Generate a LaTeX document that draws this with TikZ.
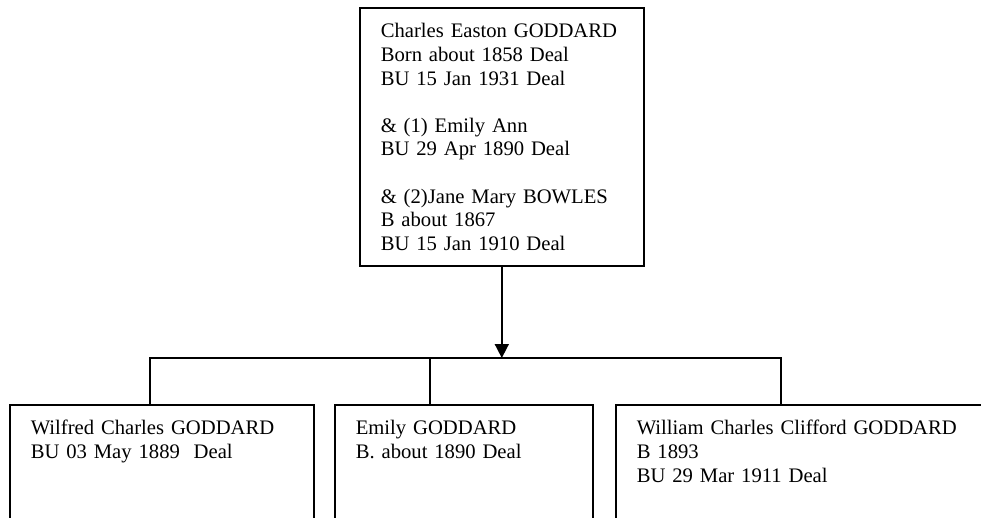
\documentclass[tikz,border=0pt]{standalone}
\usepackage{fontspec}
\setmainfont{Liberation Serif}
\usetikzlibrary{arrows.meta,positioning,calc}

\begin{document}
\begin{tikzpicture}[x=1pt,y=-1pt,
    person/.style={draw, line width=1.6pt, anchor=north west, align=left,
      inner xsep=21pt, inner ysep=16pt, text height=14pt,
      font=\fontsize{20.65}{23.6}\selectfont},
    link/.style={line width=1.6pt}]
    % Page (lower boxes run off the bottom)
    \clip (0,0) rectangle (981,517);
    % Parent
    \node[person, text width=242pt, text depth=212pt] (charles) at (359,7)
      {Charles Easton GODDARD\\ Born about 1858 Deal\\ BU 15 Jan 1931 Deal\\[23.6pt]
       \& (1) Emily Ann\\ BU 29 Apr 1890 Deal\\[23.6pt]
       \& (2)Jane Mary BOWLES\\ B about 1867\\ BU 15 Jan 1910 Deal};
    % Children
    \node[person, text width=262pt, text depth=200pt] (wilfred) at (9,404)
      {Wilfred Charles GODDARD\\ BU 03 May 1889~ Deal};
    \node[person, text width=216pt, text depth=200pt] (emily) at (334,404)
      {Emily GODDARD\\ B. about 1890 Deal};
    \node[person, text width=358pt, text depth=200pt] (william) at (615,404)
      {William Charles Clifford GODDARD\\ B 1893\\ BU 29 Mar 1911 Deal};
    % Family bar
    \coordinate (barL) at (150,358);
    \coordinate (barM) at (430,358);
    \coordinate (barR) at (781,358);
    \draw[link] (barL |- wilfred.north) -- (barL) -- (barR) -- (barR |- william.north);
    \draw[link] (barM) -- (barM |- emily.north);
    % Descent
    \draw[link, -{Triangle[width=14pt,length=14pt]}] (charles.south) -- (charles.south |- barL);
\end{tikzpicture}
\end{document}
